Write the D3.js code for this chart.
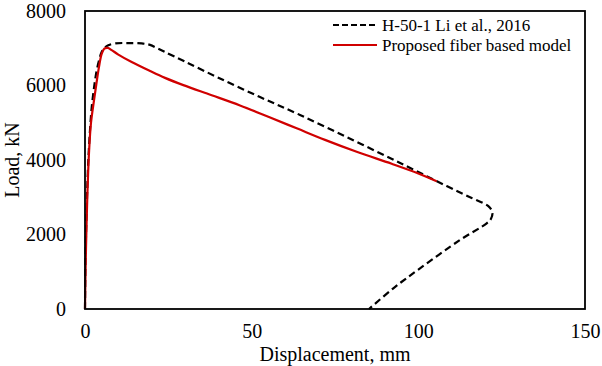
<!DOCTYPE html>
<html>
<head>
<meta charset="utf-8">
<script src="https://cdn.jsdelivr.net/npm/d3@7"></script>
<style>
  body { margin: 0; background: #fff; }
  text { font-family: "Liberation Serif", "Times New Roman", serif; fill: #000; }
</style>
</head>
<body>
<svg width="602" height="366"></svg>
<script>
// displacement (mm) / load (kN)
var testDisp = [0, 0.1, 0.3, 0.6, 1, 1.5, 2, 2.8, 3.5, 4.3, 5, 6, 7, 9, 13, 17, 19.5, 21.5, 24, 30, 40, 52.5, 64.5, 80, 95, 108.5, 116, 121, 122.2, 121.8, 120.5, 112.5, 100.5, 92.5, 85.2];
var testLoad = [0, 1000, 2000, 3000, 4000, 4800, 5400, 6000, 6400, 6700, 6900, 7020, 7080, 7130, 7140, 7130, 7090, 7010, 6900, 6640, 6210, 5690, 5210, 4550, 3900, 3300, 2980, 2760, 2600, 2420, 2300, 1852, 1092, 556, 0];

var modelDisp = [0, 0.2, 0.5, 0.8, 1.2, 1.8, 2.7, 3.5, 4.2, 5, 5.8, 6.8, 8, 10, 14, 19.5, 24, 29.5, 38, 46.5, 55, 63.5, 72, 81.5, 92, 100, 105.5];
var modelLoad = [0, 1200, 2400, 3300, 4200, 5000, 5600, 6100, 6500, 6850, 6990, 7010, 6950, 6830, 6630, 6390, 6205, 6010, 5740, 5465, 5160, 4850, 4540, 4220, 3900, 3640, 3430];

var seriesNames = ["H-50-1 Li et al., 2016", "Proposed fiber based model"];
var xTicks = [0, 50, 100, 150];
var yTicks = [0, 2000, 4000, 6000, 8000];

var drawChart = function() {
    var svg = d3.select("svg"),
        x0 = 85, x1 = 585, y0 = 11, y1 = 309;

    var x = d3.scaleLinear().domain([0, 150]).range([x0, x1]);
    var y = d3.scaleLinear().domain([0, 8000]).range([y1, y0]);

    svg.append("g")
        .attr("transform", "translate(0," + y1 + ")")
        .call(d3.axisBottom(x).tickValues(xTicks).tickFormat(d3.format("d")).tickSize(0).tickPadding(15))
        .call(function(g) { g.select(".domain").remove(); })
        .selectAll("text")
            .style("font-size", "20px")
            .style("font-family", "Liberation Serif");

    svg.append("g")
        .attr("transform", "translate(" + x0 + ",0)")
        .call(d3.axisLeft(y).tickValues(yTicks).tickFormat(d3.format("d")).tickSize(0).tickPadding(19))
        .call(function(g) { g.select(".domain").remove(); })
        .selectAll("text")
            .style("font-size", "20px")
            .style("font-family", "Liberation Serif");

    var line = d3.line()
        .x(function(d) { return x(d[0]); })
        .y(function(d) { return y(d[1]); })
        .curve(d3.curveCatmullRom.alpha(0.5));

    svg.append("path")
        .datum(d3.zip(testDisp, testLoad))
        .attr("d", line)
        .attr("fill", "none")
        .attr("stroke", "#000")
        .attr("stroke-width", 2.2)
        .attr("stroke-dasharray", "7,4");

    svg.append("path")
        .datum(d3.zip(modelDisp, modelLoad))
        .attr("d", line)
        .attr("fill", "none")
        .attr("stroke", "#d00000")
        .attr("stroke-width", 2.2);

    // plot frame
    svg.append("rect")
        .attr("x", x0).attr("y", y0)
        .attr("width", x1 - x0).attr("height", y1 - y0)
        .attr("fill", "none")
        .attr("stroke", "#000")
        .attr("stroke-width", 1.8);

    // legend
    var legend = svg.append("g").selectAll("g")
        .data(seriesNames)
        .enter().append("g")
            .attr("transform", function(d, i) { return "translate(333," + (25 + i * 20) + ")"; });

    legend.append("line")
        .attr("x1", 0).attr("x2", 44)
        .attr("stroke", function(d, i) { return i === 0 ? "#000" : "#d00000"; })
        .attr("stroke-width", 2)
        .attr("stroke-dasharray", function(d, i) { return i === 0 ? "6,3" : null; });

    legend.append("text")
        .attr("x", 49)
        .attr("dy", "0.33em")
        .style("font-size", "17px")
        .text(function(d) { return d; });

    svg.append("text")
        .attr("x", (x0 + x1) / 2)
        .attr("y", 361)
        .attr("text-anchor", "middle")
        .style("font-size", "20px")
        .text("Displacement, mm");

    svg.append("text")
        .attr("transform", "translate(19," + ((y0 + y1) / 2) + ") rotate(-90)")
        .attr("text-anchor", "middle")
        .style("font-size", "20px")
        .text("Load, kN");
};

drawChart();
</script>
</body>
</html>
